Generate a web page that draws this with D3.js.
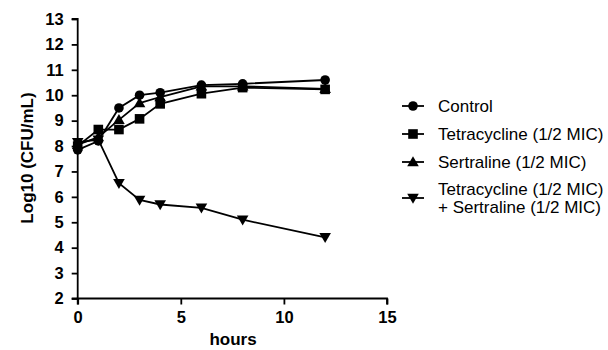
<!DOCTYPE html>
<html><head><meta charset="utf-8">
<script src="https://cdn.jsdelivr.net/npm/d3@7"></script>
<style>body{margin:0;background:#fff}svg{display:block}text{font-family:"Liberation Sans",Arial,sans-serif}</style>
</head><body>
<svg id="c" width="608" height="350"></svg>
<script>
const hours = [0, 1, 2, 3, 4, 6, 8, 12];
const seriesNames = ["Control", "Tetracycline (1/2 MIC)", "Sertraline (1/2 MIC)", "Tetracycline (1/2 MIC)|+ Sertraline (1/2 MIC)"];
const controlValues = [7.85, 8.2, 9.5, 10.0, 10.1, 10.4, 10.45, 10.6];
const tetraValues = [8.0, 8.65, 8.65, 9.07, 9.66, 10.06, 10.3, 10.23];
const sertValues = [8.05, 8.35, 9.03, 9.69, 9.93, 10.35, 10.35, 10.25];
const comboValues = [8.15, 8.25, 6.54, 5.88, 5.70, 5.57, 5.10, 4.41];
const xTicks = [0, 5, 10, 15];
const yTicks = [2, 3, 4, 5, 6, 7, 8, 9, 10, 11, 12, 13];
const markers = ["circle", "square", "triUp", "triDown"];

const svg = d3.select("#c");
const x = d3.scaleLinear().domain([0, 15]).range([77.7, 387]);
const y = d3.scaleLinear().domain([2, 13]).range([298.5, 19]);

const xAxis = svg.append("g").attr("transform", "translate(0,298.5)")
  .call(d3.axisBottom(x).tickValues(xTicks).tickSize(6).tickPadding(4));
const yAxis = svg.append("g").attr("transform", "translate(77.7,0)")
  .call(d3.axisLeft(y).tickValues(yTicks).tickSize(6).tickPadding(8));
[xAxis, yAxis].forEach(a => {
  a.select(".domain").attr("stroke", "#000").attr("stroke-width", 1.8);
  a.selectAll(".tick line").attr("stroke", "#000").attr("stroke-width", 1.8);
  a.selectAll(".tick text").attr("font-size", 16.5).attr("font-weight", "bold")
    .attr("font-family", "Liberation Sans, Arial, sans-serif").attr("fill", "#000");
});
xAxis.select(".domain").attr("d", `M${x(0)},6V0H${x(15)}V6`);
yAxis.select(".domain").attr("d", `M-6,${y(13)}H0V${y(2)}H-6`);
xAxis.selectAll(".tick text").attr("dy", "0.85em");

svg.append("text").attr("x", 233).attr("y", 345).attr("text-anchor", "middle")
  .attr("font-size", 17).attr("font-weight", "bold").text("hours");
svg.append("text").attr("transform", "translate(33,158) rotate(-90)").attr("text-anchor", "middle")
  .attr("font-size", 17).attr("font-weight", "bold").text("Log10 (CFU/mL)");

function drawMarker(g, type, cx, cy) {
  if (type === "circle") g.append("circle").attr("cx", cx).attr("cy", cy).attr("r", 4.8).attr("fill", "#000");
  else if (type === "square") g.append("rect").attr("x", cx - 4.8).attr("y", cy - 4.8).attr("width", 9.6).attr("height", 9.6).attr("fill", "#000");
  else if (type === "triUp") g.append("path").attr("d", `M${cx},${cy - 5.8}L${cx + 5.8},${cy + 4.2}L${cx - 5.8},${cy + 4.2}Z`).attr("fill", "#000");
  else g.append("path").attr("d", `M${cx},${cy + 5.8}L${cx + 5.8},${cy - 4.2}L${cx - 5.8},${cy - 4.2}Z`).attr("fill", "#000");
}

const allSeries = [controlValues, tetraValues, sertValues, comboValues];
const line = d3.line().x((d, i) => x(hours[i])).y(d => y(d));
allSeries.forEach((vals, k) => {
  const g = svg.append("g");
  g.append("path").attr("d", line(vals)).attr("fill", "none").attr("stroke", "#000").attr("stroke-width", 1.8);
  vals.forEach((v, i) => drawMarker(g, markers[k], x(hours[i]), y(v)));
});

// legend
const legY = [106, 134, 162, 198];
seriesNames.forEach((name, k) => {
  const g = svg.append("g");
  g.append("line").attr("x1", 402).attr("x2", 424).attr("y1", legY[k]).attr("y2", legY[k])
    .attr("stroke", "#000").attr("stroke-width", 1.8);
  drawMarker(g, markers[k], 413, legY[k]);
  const parts = name.split("|");
  const t = g.append("text").attr("font-size", 17).attr("fill", "#000");
  parts.forEach((p, j) => {
    t.append("tspan").attr("x", 438)
      .attr("y", legY[k] + 6 + (parts.length > 1 ? (j === 0 ? -9 : 9) : 0)).text(p);
  });
});
</script>
</body></html>
